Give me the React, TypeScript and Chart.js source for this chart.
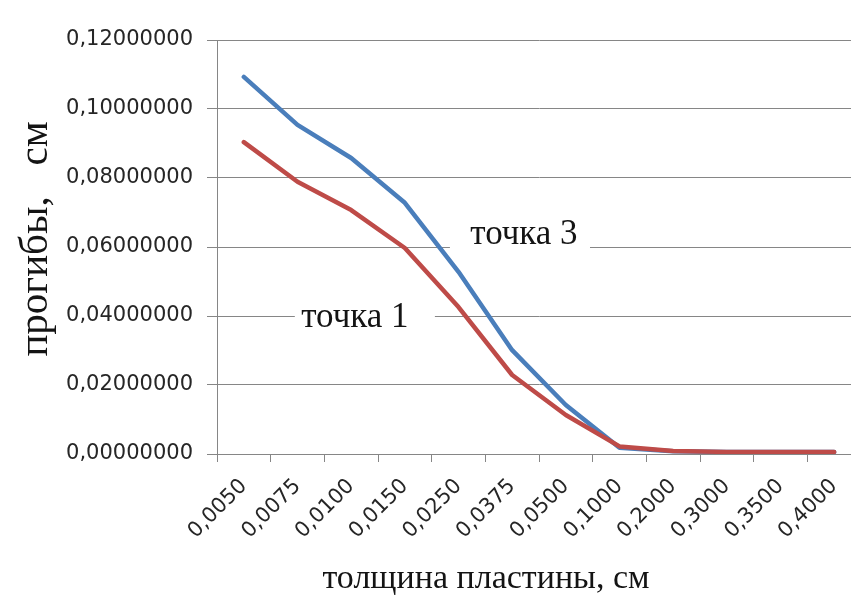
import React, { useEffect, useRef } from "react";
import { Chart, registerables } from "chart.js";

Chart.register(...registerables);

const categories = ["0,0050", "0,0075", "0,0100", "0,0150", "0,0250", "0,0375", "0,0500", "0,1000", "0,2000", "0,3000", "0,3500", "0,4000"];
const point1 = [0.0904, 0.0789, 0.0707, 0.0597, 0.0426, 0.0229, 0.0113, 0.0022, 0.0009, 0.0006, 0.0006, 0.0006];
const point3 = [0.1093, 0.0954, 0.0858, 0.0728, 0.0528, 0.0301, 0.0142, 0.0018, 0.0008, 0.0006, 0.0006, 0.0006];
const yMin = 0;
const yMax = 0.12;
const yStep = 0.02;
const seriesNames = ["точка 1", "точка 3"];
const xTitle = "толщина пластины, см";
const yTitle = "прогибы,   см";

// annotation labels: text, x (category index), y (value), white gap on gridline
const annotations = [
  { text: "точка 3", x: 5.22, y: 0.0635, line: 0.06, from: 3.84, to: 6.45 },
  { text: "точка 1", x: 2.07, y: 0.0394, line: 0.04, from: 0.95, to: 3.56 },
];

const GRID = "#868686";
const SERIF = "'Liberation Serif', 'Times New Roman', serif";
const SANS = "'DejaVu Sans', sans-serif";

const labelsPlugin = {
  id: "labelsPlugin",
  beforeDatasetsDraw(chart: any) {
    const { ctx, scales } = chart;
    const xs = scales.x;
    const ys = scales.y;
    ctx.save();
    for (const a of annotations) {
      const x0 = xs.getPixelForValue(a.from);
      const x1 = xs.getPixelForValue(a.to);
      const yl = ys.getPixelForValue(a.line);
      ctx.fillStyle = "#ffffff";
      ctx.fillRect(x0, yl - 3, x1 - x0, 6);
      ctx.fillStyle = "#141414";
      ctx.font = `35px ${SERIF}`;
      ctx.textAlign = "center";
      ctx.textBaseline = "middle";
      ctx.fillText(a.text, xs.getPixelForValue(a.x), ys.getPixelForValue(a.y));
    }
    ctx.restore();
  },
  afterDraw(chart: any) {
    const { ctx } = chart;
    ctx.save();
    ctx.fillStyle = "#141414";
    ctx.textAlign = "center";
    ctx.textBaseline = "alphabetic";
    ctx.font = `34px ${SERIF}`;
    ctx.fillText(xTitle, 486, 588);
    ctx.font = `41px ${SERIF}`;
    ctx.translate(47, 239);
    ctx.rotate(-Math.PI / 2);
    ctx.fillText(yTitle, 0, 0);
    ctx.restore();
  },
};

export default function App() {
  const ref = useRef<HTMLCanvasElement>(null);
  useEffect(() => {
    if (!ref.current) return;
    const chart = new Chart(ref.current, {
      type: "line",
      data: {
        labels: categories,
        datasets: [
          {
            label: seriesNames[0],
            data: point1,
            borderColor: "#BE4B48",
            backgroundColor: "#BE4B48",
            borderWidth: 4.5,
            pointRadius: 0,
            tension: 0,
            borderJoinStyle: "round",
            borderCapStyle: "round",
          },
          {
            label: seriesNames[1],
            data: point3,
            borderColor: "#4A7EBB",
            backgroundColor: "#4A7EBB",
            borderWidth: 4.5,
            pointRadius: 0,
            tension: 0,
            borderJoinStyle: "round",
            borderCapStyle: "round",
          },
        ],
      },
      options: {
        responsive: false,
        animation: false,
        devicePixelRatio: 1,
        layout: { padding: { left: 0, top: 40, right: 39, bottom: 0 } },
        plugins: { legend: { display: false }, tooltip: { enabled: false }, title: { display: false } },
        scales: {
          x: {
            type: "category",
            offset: true,
            grid: { display: true, drawOnChartArea: false, drawTicks: true, tickLength: 8, offset: true, color: GRID },
            border: { display: true, color: GRID },
            ticks: { minRotation: 45, maxRotation: 45, autoSkip: false, padding: 12, color: "#262626", font: { family: SANS, size: 21 } },
            afterFit: (s: any) => { s.height = 145; },
          },
          y: {
            min: yMin,
            max: yMax,
            grid: { color: GRID, drawTicks: true, tickLength: 10 },
            border: { display: true, color: GRID },
            ticks: {
              stepSize: yStep,
              padding: 14,
              color: "#262626",
              font: { family: SANS, size: 21 },
              callback: (v: any) => Number(v).toFixed(8).replace(".", ","),
            },
            afterFit: (s: any) => { s.width = 217; },
          },
        },
      },
      plugins: [labelsPlugin],
    });
    return () => chart.destroy();
  }, []);
  return (
    <div style={{ position: "fixed", left: 0, top: 0, width: 851, height: 599, overflow: "hidden", background: "#fff" }}>
      <canvas ref={ref} width={900} height={599} style={{ display: "block" }} />
    </div>
  );
}
